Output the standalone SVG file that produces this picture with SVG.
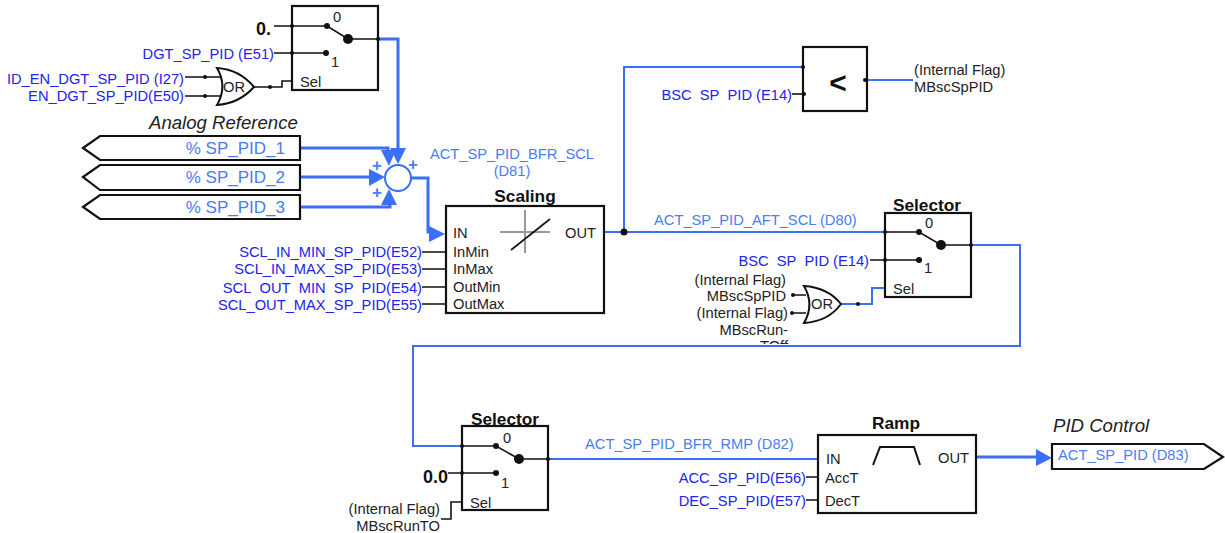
<svg xmlns="http://www.w3.org/2000/svg" width="1225" height="533" viewBox="0 0 1225 533">
<style>
text{font-family:"Liberation Sans",Arial,sans-serif;font-size:14.7px;fill:#222}
.blk{fill:none;stroke:#111;stroke-width:1.6}
.box{fill:#fff;stroke:#111;stroke-width:2.2}
.bl{fill:none;stroke:#3b6ff5;stroke-width:2}
.blt{fill:none;stroke:#3b6ff5;stroke-width:3}
.ah{fill:#3b6ff5;stroke:none}
.d{fill:#111}
.b{fill:#2222ee}
.lb{fill:#4a7cf5}
.e{text-anchor:end}
.m{text-anchor:middle}
.h{font-weight:bold;font-size:17.3px;fill:#111}
.i{font-style:italic;font-size:18.6px}
.p{font-size:17px}
.pl{font-size:17px;font-weight:bold}
.gate{fill:#fff;stroke:#111;stroke-width:2}
</style>
<defs>
<clipPath id="cutA"><rect x="150" y="280" width="280" height="14"/><rect x="386" y="280" width="44" height="20"/></clipPath>
<clipPath id="cutB"><rect x="650" y="85" width="145" height="15.5"/><rect x="750" y="85" width="45" height="21"/></clipPath>
<clipPath id="cutC"><rect x="730" y="251" width="140" height="15.5"/><rect x="827" y="251" width="43" height="21"/></clipPath>
<clipPath id="cutD"><rect x="700" y="336" width="100" height="8"/></clipPath>
</defs>
<g id="connectors">
<path class="blt" d="M378 39H398V155"/>
<path class="blt" d="M300 148H388V155"/>
<path class="blt" d="M300 177H372"/>
<path class="blt" d="M300 207H390V200"/>
<path class="blt" d="M411 178H428V232H432"/>
<path class="ah" d="M390 148L406 148L398 164Z"/>
<path class="ah" d="M381 150L396 150L389 166Z"/>
<path class="ah" d="M369 169L385 177L369 186Z"/>
<path class="ah" d="M381 205L397 205L389 189Z"/>
<path class="ah" d="M429 226L445 234L429 242Z"/>
<path class="bl" d="M604 232H885"/>
<path class="bl" d="M624 232V67H803"/>
<path class="bl" d="M867 80H913"/>
<path class="bl" d="M971 245H1020V346H413V446H462"/>
<path class="bl" d="M548 459H818"/>
<path class="blt" d="M976 457H1040"/>
<path class="ah" d="M1036 449L1052 458L1036 466Z"/>
<path class="blk" d="M274 26H327M274 53H326M185 77H220M185 96H220M254 87H282V81H292"/>
<path class="blk" d="M422 252H446M422 269H446M422 287H446M422 304H446"/>
<path class="blk" d="M792 94H803"/>
<path class="blk" d="M870 260H919"/>
<path class="blk" d="M792 295H806M792 313H806"/>
<path class="bl" d="M841 304H872V288H885"/>
<path class="blk" d="M448 473H500"/>
<path class="blk" d="M441 519H451V502H462"/>
<path class="blk" d="M806 477H818M806 500H818"/>
</g>
<g id="sel1">
<rect class="box" x="292" y="6" width="86" height="84"/>
<path class="blk" d="M327 26L348 39H378M292 26H327M292 53H326"/>
<circle class="d" cx="327" cy="26" r="3"/><circle class="d" cx="326" cy="53" r="3"/><circle class="d" cx="348" cy="39" r="5"/>
<circle class="d" cx="292" cy="26" r="2"/><circle class="d" cx="292" cy="53" r="2"/><circle class="d" cx="378" cy="39" r="2"/>
<text class="m" x="337" y="22">0</text><text class="m" x="335" y="67">1</text><text x="300" y="87">Sel</text>
<text class="h e" x="271" y="35" style="font-size:18px">0.</text>
<text class="b e" x="274" y="59">DGT_SP_PID (E51)</text>
</g>
<g id="or1">
<path class="gate" d="M217 68C232 69 245 76 254 87C245 97 232 104 217 105C224 93 224 80 217 68Z"/>
<text x="223" y="92">OR</text>
<circle class="d" cx="205" cy="77" r="2"/><circle class="d" cx="205" cy="96" r="2"/><circle class="d" cx="270" cy="87" r="2"/>
<text class="b e" x="184" y="84">ID_EN_DGT_SP_PID (I27)</text>
<text class="b e" x="184" y="101">EN_DGT_SP_PID(E50)</text>
</g>
<g id="analog">
<text class="i" x="149" y="129">Analog Reference</text>
<path class="box" d="M83 148L100 136H300V160H100Z"/>
<path class="box" d="M83 177L100 165H300V190H100Z"/>
<path class="box" d="M83 207L100 195H300V219H100Z"/>
<text class="lb e p" x="285" y="154">% SP_PID_1</text>
<text class="lb e p" x="285" y="183">% SP_PID_2</text>
<text class="lb e p" x="285" y="213">% SP_PID_3</text>
</g>
<g id="sum">
<circle cx="398" cy="178" r="13" fill="#fff" stroke="#3b6ff5" stroke-width="2"/>
<text class="lb m pl" x="377" y="171">+</text><text class="lb m pl" x="413" y="170">+</text><text class="lb m pl" x="377" y="198">+</text>
<text class="lb m" x="512" y="159">ACT_SP_PID_BFR_SCL</text>
<text class="lb m" x="512" y="176">(D81)</text>
</g>
<g id="scaling">
<rect class="box" x="446" y="206" width="158" height="107"/>
<text class="h m" x="525" y="202">Scaling</text>
<path fill="none" stroke="#999" stroke-width="2" d="M500 232H550M525 210V253"/>
<path class="blk" d="M511 250L550 219"/>
<text x="453" y="238">IN</text><text x="453" y="257">InMin</text><text x="453" y="274">InMax</text><text x="453" y="292">OutMin</text><text x="453" y="309">OutMax</text>
<text class="e" x="596" y="238">OUT</text>
<text class="b e" x="422" y="257">SCL_IN_MIN_SP_PID(E52)</text>
<text class="b e" x="422" y="274">SCL_IN_MAX_SP_PID(E53)</text>
<text class="b e" x="422" y="293" clip-path="url(#cutA)">SCL_OUT_MIN_SP_PID(E54)</text>
<text class="b e" x="422" y="310">SCL_OUT_MAX_SP_PID(E55)</text>
<circle class="d" cx="624" cy="232" r="3.5"/>
<text class="lb" x="654" y="225">ACT_SP_PID_AFT_SCL (D80)</text>
</g>
<g id="compare">
<rect class="box" x="803" y="47" width="64" height="64"/>
<text class="m" x="838" y="93" style="font-size:30px;font-weight:bold;fill:#111">&lt;</text>
<circle class="d" cx="803" cy="67" r="2"/><circle class="d" cx="804" cy="94" r="2"/><circle class="d" cx="865" cy="80" r="2"/>
<text class="b e" x="792" y="100" clip-path="url(#cutB)">BSC_SP_PID (E14)</text>
<text x="914" y="75">(Internal Flag)</text><text x="914" y="92">MBscSpPID</text>
</g>
<g id="sel2">
<rect class="box" x="885" y="213" width="86" height="84"/>
<text class="h m" x="927" y="211">Selector</text>
<path class="blk" d="M885 232H919L941 245H971M885 260H919"/>
<circle class="d" cx="919" cy="232" r="3"/><circle class="d" cx="919" cy="260" r="3"/><circle class="d" cx="941" cy="245" r="5"/>
<circle class="d" cx="885" cy="232" r="2"/><circle class="d" cx="885" cy="260" r="2"/><circle class="d" cx="971" cy="245" r="2"/>
<text class="m" x="929" y="228">0</text><text class="m" x="928" y="273">1</text><text x="893" y="294">Sel</text>
<text class="b e" x="869" y="266" clip-path="url(#cutC)">BSC_SP_PID (E14)</text>
</g>
<g id="or2">
<path class="gate" d="M804 286C820 287 833 294 841 304C833 315 820 322 804 323C811 311 811 298 804 286Z"/>
<text x="811" y="309">OR</text>
<circle class="d" cx="793" cy="295" r="2"/><circle class="d" cx="792" cy="313" r="2"/><circle class="d" cx="858" cy="304" r="2"/>
<text class="e" x="786" y="285">(Internal Flag)</text><text class="e" x="786" y="301">MBscSpPID</text>
<text class="e" x="788" y="318">(Internal Flag)</text><text class="e" x="788" y="335">MBscRun-</text>
<text class="e" x="788" y="351" clip-path="url(#cutD)">TOff</text>
</g>
<g id="sel3">
<rect class="box" x="462" y="426" width="86" height="84"/>
<text class="h m" x="505" y="425">Selector</text>
<path class="blk" d="M462 446H496L519 459H548M462 473H496"/>
<circle class="d" cx="496" cy="446" r="3"/><circle class="d" cx="496" cy="473" r="3"/><circle class="d" cx="519" cy="459" r="5"/>
<circle class="d" cx="462" cy="446" r="2"/><circle class="d" cx="462" cy="473" r="2"/><circle class="d" cx="548" cy="459" r="2"/>
<text class="m" x="507" y="443">0</text><text class="m" x="505" y="488">1</text><text x="470" y="508">Sel</text>
<text class="h e" x="448" y="483" style="font-size:18px">0.0</text>
<text class="e" x="440" y="514">(Internal Flag)</text><text class="e" x="440" y="531">MBscRunTO</text>
<text class="lb" x="585" y="449">ACT_SP_PID_BFR_RMP (D82)</text>
</g>
<g id="ramp">
<rect class="box" x="818" y="435" width="158" height="78"/>
<text class="h m" x="896" y="429">Ramp</text>
<path class="blk" d="M873 465L880 447H914L920 465" style="stroke-width:2"/>
<text x="826" y="464">IN</text><text x="825" y="483">AccT</text><text x="825" y="506">DecT</text>
<text class="e" x="969" y="463">OUT</text>
<text class="b e" x="806" y="483">ACC_SP_PID(E56)</text>
<text class="b e" x="806" y="506">DEC_SP_PID(E57)</text>
</g>
<g id="output">
<text class="i" x="1053" y="432">PID Control</text>
<path class="box" d="M1052 444H1204L1223 457L1204 469H1052Z"/>
<text class="lb" x="1058" y="460">ACT_SP_PID (D83)</text>
</g>
</svg>
